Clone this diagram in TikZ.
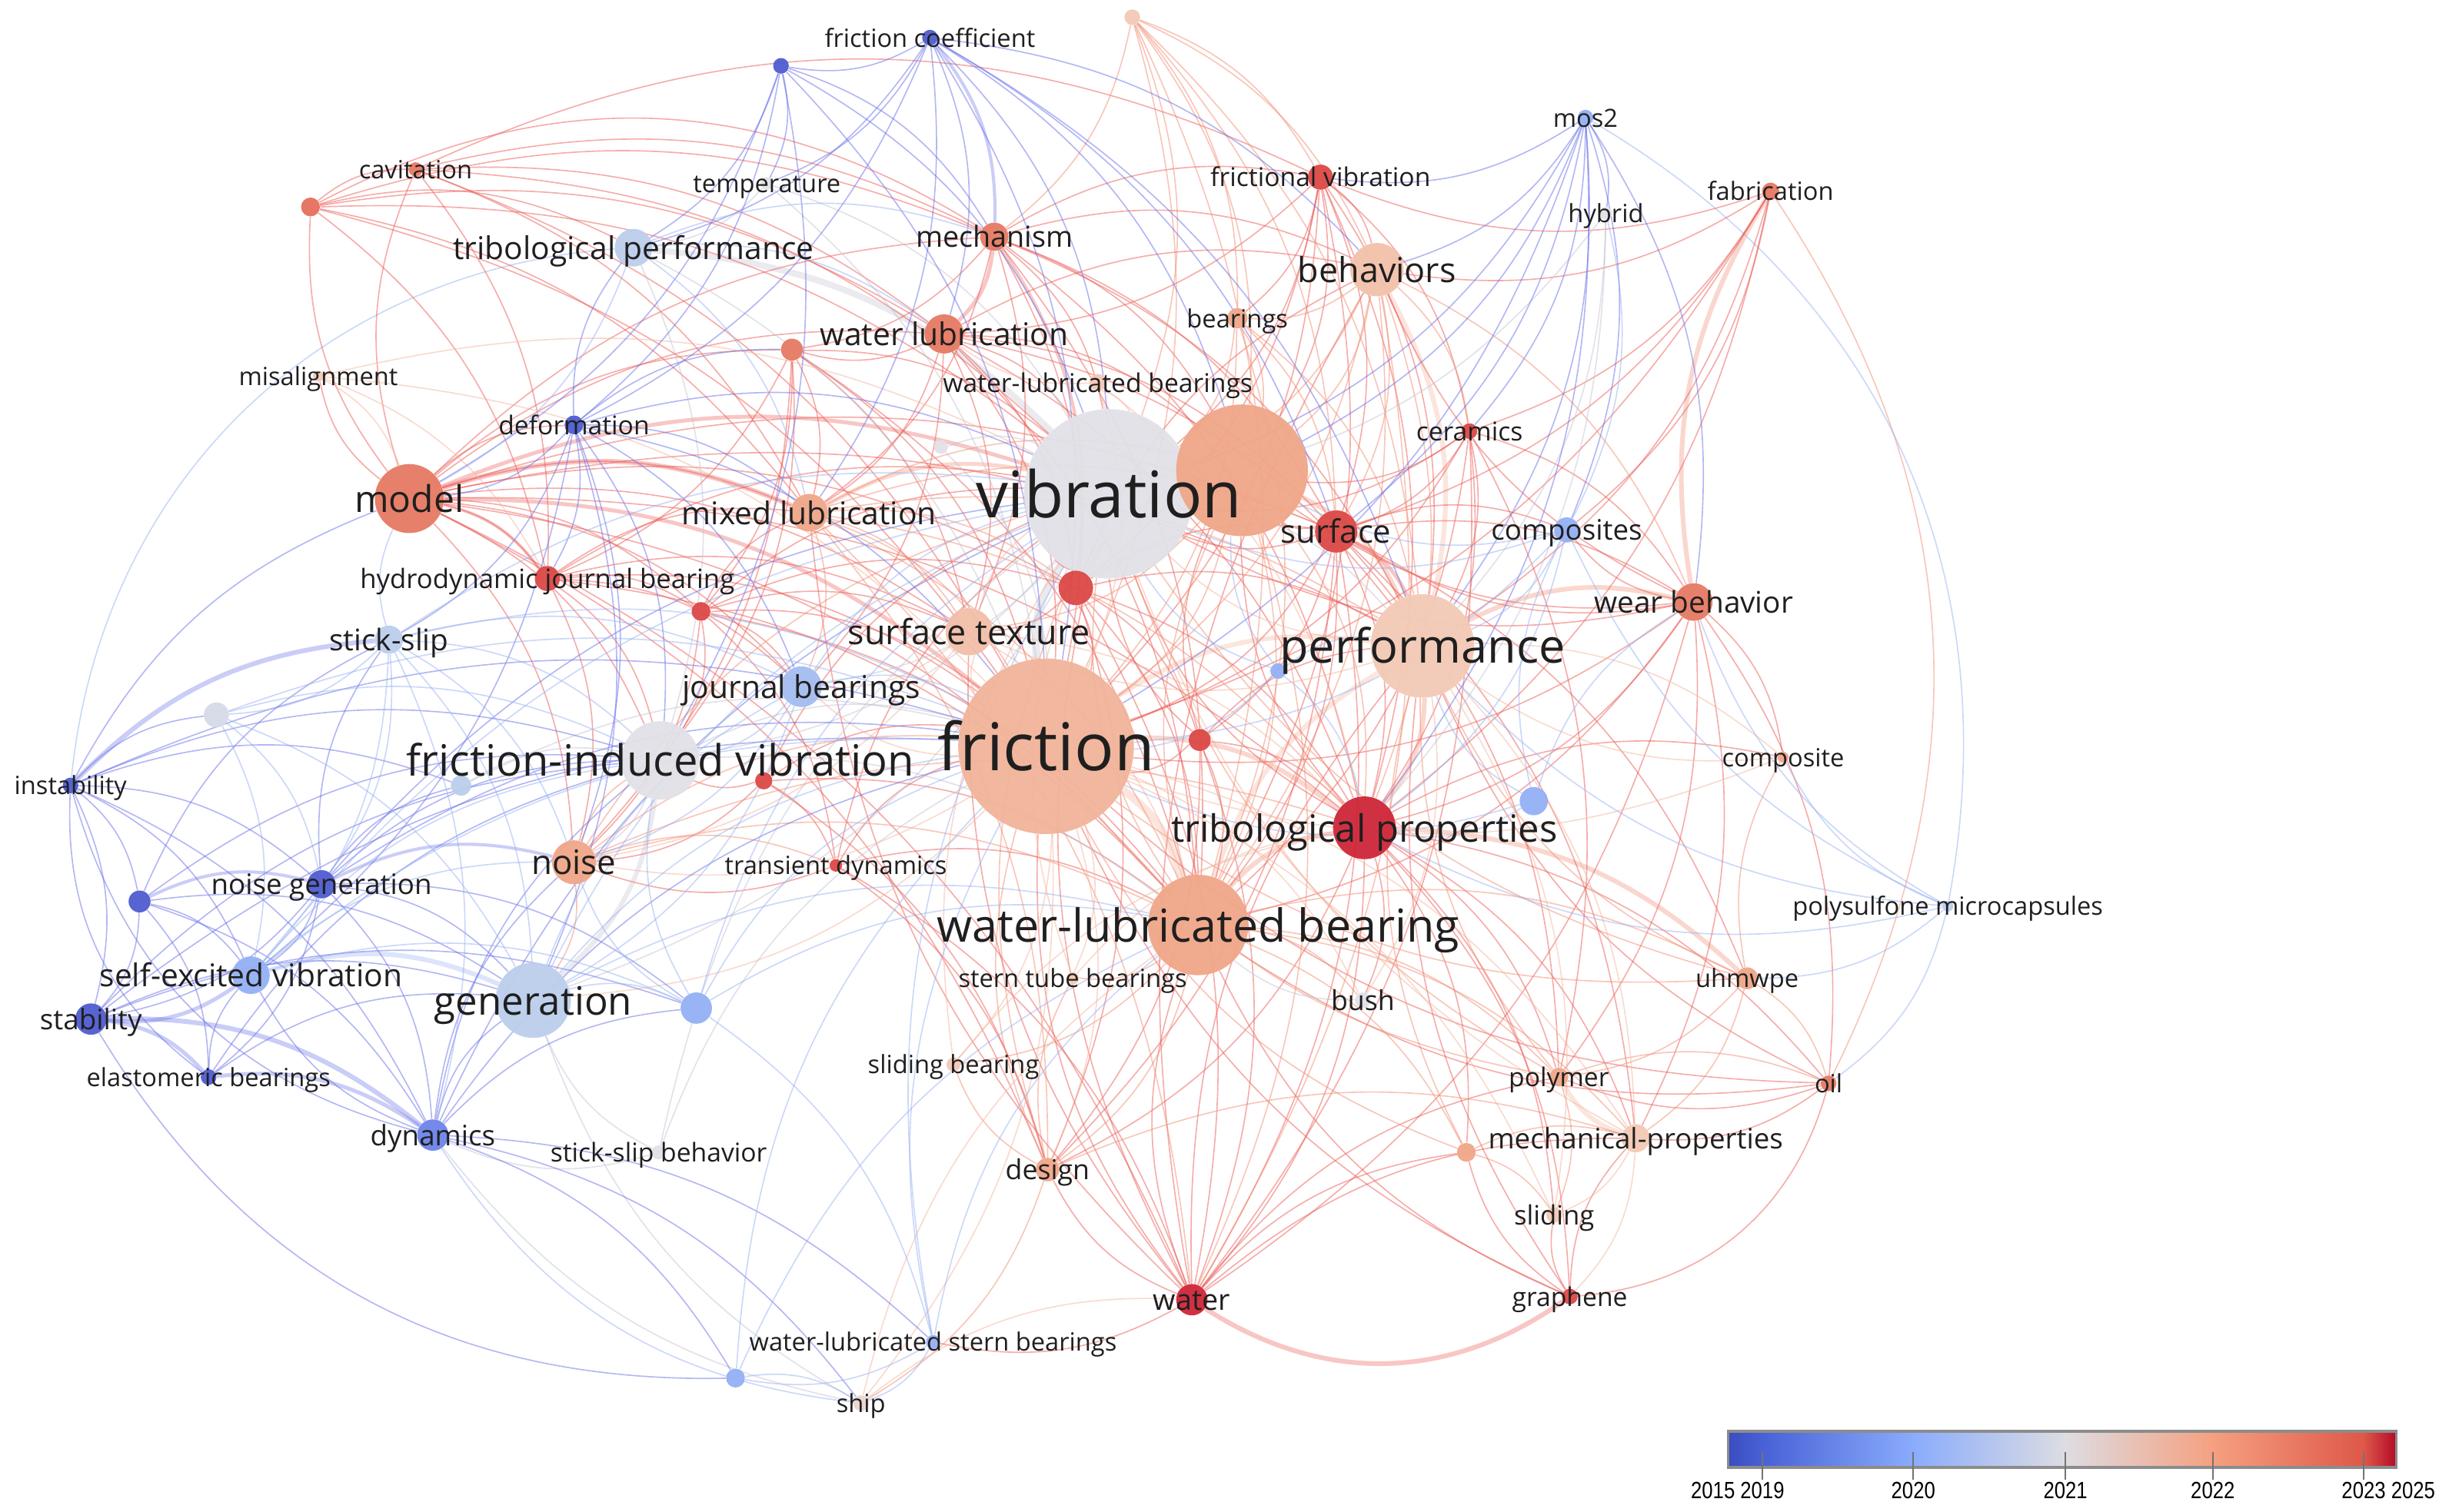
\documentclass[tikz,border=0pt]{standalone}
\usepackage{fontspec}
\setmainfont{Open Sans}
\newfontfamily\barfont[FakeStretch=0.84]{Liberation Sans}
\pgfdeclarelayer{paper}
\pgfdeclarelayer{edges}
\pgfdeclarelayer{labels}
\pgfsetlayers{paper,edges,main,labels}
\definecolor{B1}{RGB}{78,92,208}
\definecolor{B2}{RGB}{108,132,232}
\definecolor{B3}{RGB}{148,176,245}
\definecolor{B4}{RGB}{188,206,236}
\definecolor{G0}{RGB}{225,225,231}
\definecolor{P1}{RGB}{243,202,182}
\definecolor{O1}{RGB}{240,166,136}
\definecolor{O2}{RGB}{230,122,98}
\definecolor{R1}{RGB}{220,72,70}
\definecolor{R2}{RGB}{206,38,56}
\definecolor{eR}{RGB}{236,92,86}
\definecolor{eO}{RGB}{242,142,116}
\definecolor{eP}{RGB}{245,182,158}
\definecolor{eB}{RGB}{104,112,232}
\definecolor{eL}{RGB}{152,178,242}
\definecolor{eG}{RGB}{196,196,212}
\definecolor{cb0}{RGB}{58,76,192}
\definecolor{cb1}{RGB}{72,98,214}
\definecolor{cb2}{RGB}{138,172,252}
\definecolor{cb3}{RGB}{221,221,226}
\definecolor{cb4}{RGB}{245,160,128}
\definecolor{cb5}{RGB}{222,88,72}
\definecolor{cb6}{RGB}{180,10,40}
\tikzset{
  dot/.style={circle,inner sep=0pt,draw=none,fill opacity=0.95},
  lab/.style={inner sep=0pt,text=black!88,anchor=base},
  lk/.style={line width=0.8pt,draw opacity=0.5},
  lkt/.style={draw opacity=0.35},
  barlab/.style={inner sep=0pt,font=\barfont\fontsize{15pt}{15pt}\selectfont,text=black}
}
\newcommand{\kwnode}[7]{\node[dot,fill=#5,minimum size=#4pt] (#1) at (#2,#3) {};%
  \begin{pgfonlayer}{labels}\node[lab,font=\fontsize{#6pt}{#6pt}\selectfont] (#1-l) at (#2,{#3+0.37*#6}) {#7};\end{pgfonlayer}}
\newcommand{\kwdot}[5]{\node[dot,fill=#5,minimum size=#4pt] (#1) at (#2,#3) {};}
\begin{document}
\begin{tikzpicture}[x=1pt,y=-1pt]
\useasboundingbox (0,0) rectangle (1568,964);
\begin{pgfonlayer}{paper}\fill[white] (0,0) rectangle (1568,964);\end{pgfonlayer}
% ---------------- keywords ----------------
\kwnode{fc}{593}{24}{10}{B1}{16}{friction coefficient}
\kwdot{bd1}{498}{42}{10}{B1}
\kwdot{od1}{722}{11}{10}{P1}
\kwnode{cav}{265}{108}{9}{O2}{16}{cavitation}
\kwdot{rd1}{198}{132}{12}{O2!80!R1}
\kwnode{temp}{489}{117}{8}{G0}{16}{temperature}
\kwnode{tp}{404}{158}{24}{B4}{20}{tribological performance}
\kwnode{mech}{634}{151}{18}{O2}{18.5}{mechanism}
\kwnode{frv}{842}{113}{16}{R1}{16.5}{frictional vibration}
\kwnode{fab}{1129}{122}{11}{O2}{16}{fabrication}
\kwnode{mos}{1011}{75}{10}{B3}{16}{mos2}
\kwnode{hyb}{1024}{136}{8}{G0}{16}{hybrid}
\kwnode{beh}{878}{172}{34}{P1!75!O1}{22}{behaviors}
\kwnode{brg}{789}{203}{13}{O1}{16}{bearings}
\kwnode{wl}{602}{213}{25}{O2}{20}{water lubrication}
\kwdot{rd2}{505}{223}{14}{O2}
\kwnode{wlbs}{700}{244}{11}{P1}{16.5}{water-lubricated bearings}
\kwnode{mis}{203}{240}{7}{P1}{16}{misalignment}
\kwnode{def}{366}{271}{12}{B1}{16.5}{deformation}
\kwnode{cer}{937}{275}{10}{R1}{16.5}{ceramics}
\kwdot{wd1}{600}{285}{9}{G0}
\kwnode{model}{261}{318}{44}{O2}{23.5}{model}
\kwnode{ml}{516}{327}{24}{O1}{20}{mixed lubrication}
\kwnode{vib}{707}{315}{108}{G0}{41}{vibration}
\kwdot{ob}{792}{300}{84}{O1}
\kwnode{surf}{852}{339}{27}{R1}{20.5}{surface}
\kwnode{comps}{999}{338}{16}{B3}{18}{composites}
\kwnode{hjb}{349}{369}{16}{R1}{17}{hydrodynamic journal bearing}
\kwdot{rd3}{447}{390}{12}{R1}
\kwdot{rd4}{686}{375}{22}{R1}
\kwnode{wb}{1080}{384}{24}{O2}{19}{wear behavior}
\kwnode{ss}{248}{408}{18}{B4}{19}{stick-slip}
\kwnode{st}{618}{403}{30}{P1!70!O1}{22}{surface texture}
\kwnode{jb}{511}{438}{26}{B3!60!B4}{20}{journal bearings}
\kwnode{perf}{907}{412}{66}{P1}{30}{performance}
\kwdot{bd2}{815}{428}{10}{B3}
\kwdot{gd1}{138}{456}{16}{G0!70!B4}
\kwnode{fric}{667}{476}{112}{O1!60!P1}{42}{friction}
\kwdot{rd5}{765}{472}{14}{R1}
\kwnode{fiv}{421}{485}{50}{G0}{27.5}{friction-induced vibration}
\kwdot{gd2}{294}{501}{13}{B4}
\kwdot{rd6}{487}{498}{11}{R1}
\kwnode{inst}{45}{501}{10}{B1}{16}{instability}
\kwnode{comp}{1137}{483}{7}{O1}{16}{composite}
\kwdot{bd3}{978}{511}{18}{B3}
\kwnode{tprop}{870}{528}{40}{R2}{24}{tribological properties}
\kwnode{noise}{366}{550}{28}{O1}{21.5}{noise}
\kwnode{td}{533}{552}{8}{R1}{16}{transient dynamics}
\kwnode{ng}{205}{564}{18}{B1}{18}{noise generation}
\kwdot{bd4}{89}{575}{14}{B1}
\kwnode{wlb}{764}{590}{64}{O1}{29}{water-lubricated bearing}
\kwnode{psm}{1242}{578}{7}{B4}{16}{polysulfone microcapsules}
\kwnode{sev}{160}{622}{24}{B3}{20}{self-excited vibration}
\kwnode{gen}{340}{638}{48}{B4}{25}{generation}
\kwdot{bd5}{444}{643}{20}{B3}
\kwnode{stab}{58}{650}{20}{B1}{18}{stability}
\kwnode{stb}{684}{624}{8}{P1}{16}{stern tube bearings}
\kwnode{bush}{869}{638}{10}{G0}{17.5}{bush}
\kwnode{uhm}{1114}{624}{14}{O1}{16}{uhmwpe}
\kwnode{sb}{608}{679}{9}{P1}{16}{sliding bearing}
\kwnode{eb}{133}{687}{10}{B1}{16}{elastomeric bearings}
\kwnode{poly}{994}{687}{12}{O1}{16.5}{polymer}
\kwnode{oil}{1166}{691}{10}{O2}{16}{oil}
\kwnode{dyn}{276}{724}{20}{B2}{18}{dynamics}
\kwnode{ssb}{420}{735}{9}{G0}{16.5}{stick-slip behavior}
\kwnode{mp}{1043}{726}{18}{P1}{18}{mechanical-properties}
\kwdot{od2}{935}{735}{12}{O1}
\kwnode{design}{668}{746}{15}{O1}{17.5}{design}
\kwnode{sliding}{991}{775}{10}{P1}{17}{sliding}
\kwnode{water}{760}{829}{20}{R2}{18.5}{water}
\kwnode{gra}{1001}{827}{10}{R1}{16.5}{graphene}
\kwnode{wlsb}{595}{856}{9}{B3}{16}{water-lubricated stern bearings}
\kwdot{bd6}{469}{879}{12}{B3}
\kwnode{ship}{549}{895}{10}{P1!50!G0}{16}{ship}
% ---------------- links ----------------
\begin{pgfonlayer}{edges}
% outer arcs
\draw[lkt,draw=eR,line width=3pt] (water) to[bend right=34] (gra);
\draw[lk,eB] (inst) to[bend right=30] (dyn);
\draw[lk,eB] (inst) to[bend right=28] (eb);
\draw[lk,eL] (inst) to[bend left=40] (tp);
\draw[lk,eB] (stab) to[bend right=30] (bd6);
\draw[lk,eL] (dyn) to[bend right=25] (ship);
\draw[lk,eR] (rd1) to[bend left=30] (mech);
\draw[lk,eR] (cav) to[bend left=25] (frv);
\draw[lk,eO] (fab) to[bend left=30] (oil);
\draw[lk,eL] (mos) to[bend left=35] (psm);
\draw[lk,eR] (gra) to[bend right=35] (oil);
% thick links
\foreach \a/\b/\c/\w in {fric/wlb/eP/5, fric/vib/eG/5, vib/ob/eG/4, model/ml/eR/3, model/vib/eR/2.5, model/fric/eR/2.5,
  tprop/uhm/eO/3, wb/fab/eO/3, perf/wb/eO/3, fric/tprop/eO/3, mech/wl/eR/2.5, mech/rd4/eR/2,
  beh/perf/eP/3, perf/tprop/eO/3, wlb/tprop/eO/3, surf/perf/eR/2.5, tp/vib/eG/4, inst/ss/eB/3, stab/dyn/eB/3,
  stab/eb/eB/2.5, eb/dyn/eB/2.5, sev/stab/eB/2.5, bd4/ng/eB/2, sev/gen/eL/3, fc/mech/eB/2, ng/noise/eB/2,
  fric/perf/eP/3, wlb/perf/eP/3, mp/poly/eP/3, ob/perf/eO/3, model/hjb/eR/2, ml/vib/eO/2.5, fiv/gen/eG/3} 
  \draw[lkt,draw=\c,line width=\w pt] (\a) to[bend left=20] (\b);
% red links
\foreach \a/\b in {model/ml, model/hjb, model/rd3, model/noise, model/fiv, model/wl, model/rd1, model/cav, model/def,
  model/st, model/jb, model/tprop, model/wlb, model/surf, model/mis, model/rd4, model/rd2, model/mech, model/design,
  model/water, model/perf, rd1/cav, rd1/tp, rd1/mech, rd1/ml, rd1/vib, rd1/hjb, rd1/wl, rd1/fric,
  cav/mech, cav/ml, cav/vib, cav/fric, cav/wl, cav/hjb,
  mech/vib, mech/fric, mech/ml, mech/surf, mech/beh, mech/tprop, mech/perf, mech/wlb, mech/rd2, mech/frv, mech/st, mech/ob,
  frv/vib, frv/fric, frv/surf, frv/beh, frv/perf, frv/tprop, frv/wlb, frv/brg, frv/cer, frv/ob, frv/rd4, frv/wl,
  fab/cer, fab/tprop, fab/perf, fab/surf, fab/beh, fab/comps, fab/frv, fab/fric,
  wl/vib, wl/fric, wl/ml, wl/wlb, wl/st, wl/rd4, wl/perf, wl/tprop, wl/jb, wl/rd2, wl/surf, wl/ob, wl/beh,
  rd2/vib, rd2/fric, rd2/ml, rd2/rd3, rd2/fiv, rd2/noise, rd2/st, rd2/hjb, rd2/wlb,
  cer/surf, cer/tprop, cer/perf, cer/wb, cer/fric, cer/wlb, cer/water, cer/poly, cer/ob, cer/vib,
  surf/vib, surf/fric, surf/tprop, surf/wlb, surf/wb, surf/rd5, surf/ob, surf/comps, surf/water, surf/poly, surf/mp, surf/uhm, surf/design,
  hjb/vib, hjb/fric, hjb/fiv, hjb/rd3, hjb/ml, hjb/jb, hjb/noise, hjb/wlb, hjb/st,
  rd3/vib, rd3/fric, rd3/fiv, rd3/st, rd3/jb, rd3/rd4, rd3/ml, rd3/td, rd3/noise, rd3/wlb,
  rd4/vib, rd4/fric, rd4/st, rd4/surf, rd4/perf, rd4/tprop, rd4/wlb, rd4/rd5, rd4/ob, rd4/beh, rd4/design, rd4/water,
  rd5/vib, rd5/tprop, rd5/wlb, rd5/perf, rd5/water, rd5/fric, rd5/ob, rd5/design,
  tprop/vib, tprop/poly, tprop/mp, tprop/oil, tprop/gra, tprop/water, tprop/design, tprop/sliding, tprop/bush, tprop/od2, tprop/comp, tprop/ob,
  rd6/fric, rd6/vib, rd6/td, rd6/noise, rd6/fiv, rd6/wlb, rd6/design,
  td/fric, td/wlb, td/vib, td/design, td/noise, td/water,
  water/vib, water/fric, water/wlb, water/ml, water/poly, water/od2, water/mp, water/wlsb, water/design, water/st, water/perf, water/beh,
  gra/od2, gra/sliding, gra/mp, gra/perf, gra/wlb, gra/fric,
  oil/mp, oil/perf, oil/fric, oil/poly, oil/wlb,
  wb/tprop, wb/surf, wb/fric, wb/vib, wb/comp, wb/poly, wb/mp, wb/oil, wb/wlb, wb/comps, wb/beh, wb/ob, wb/water}
  \draw[lk,eR] (\a) to[bend left=20] (\b);
% orange links
\foreach \a/\b in {beh/vib, beh/fric, beh/tprop, beh/wlb, beh/surf, beh/ob, beh/wb, beh/cer, beh/brg, beh/water,
  brg/vib, brg/fric, brg/wlb, brg/perf, brg/surf, brg/ob,
  od1/fric, od1/vib, od1/mech, od1/beh, od1/perf, od1/frv, od1/surf, od1/wlb, od1/ob, od1/brg,
  ml/fric, ml/st, ml/wlb, ml/jb, ml/rd4, ml/tprop, ml/perf, ml/surf, ml/design, ml/water, ml/ob,
  noise/vib, noise/fric, noise/wlb, noise/td, noise/gen, noise/fiv, noise/tprop,
  wlb/vib, wlb/design, wlb/stb, wlb/bush, wlb/sb, wlb/uhm, wlb/poly, wlb/mp, wlb/od2, wlb/ob,
  design/vib, design/fric, design/ship, design/sb, design/stb, design/mp,
  uhm/poly, uhm/oil, uhm/mp, uhm/comp, uhm/fric, uhm/perf, uhm/vib,
  poly/oil, poly/sliding, poly/fric, poly/perf, poly/vib,
  od2/sliding, od2/mp, od2/fric, od2/perf,
  ob/fric, ob/tprop, ob/wlb, ob/st, ob/water}
  \draw[lk,eO] (\a) to[bend left=20] (\b);
% peach links
\foreach \a/\b in {fric/st, fric/noise, fric/design, fric/bush, fric/stb, fric/sb, fric/jb, fric/gen, fric/ship, fric/sliding, fric/mp,
  perf/vib, perf/st, perf/mp, perf/sliding, perf/bush, perf/comp,
  st/vib, st/wlb, st/tprop, st/jb, st/noise, mp/sliding, mp/vib, mp/gra,
  sb/vib, sb/tprop, stb/vib, stb/tprop, mis/fric, mis/vib, mis/model, mis/hjb, ship/water, ship/wlb,
  wlbs/vib, wlbs/fric, wlbs/tprop, wlbs/wl, comp/perf, comp/fric}
  \draw[lk,eP] (\a) to[bend left=20] (\b);
% grey links
\foreach \a/\b in {vib/fiv, vib/gen, vib/perf, vib/jb, tp/fric, tp/fiv, fiv/fric, fiv/noise, fiv/wlb, bush/wlb,
  ssb/fric, ssb/gen, ssb/dyn, ssb/vib, temp/vib, temp/fric, temp/tp, hyb/vib, hyb/perf, hyb/tprop,
  wd1/vib, wd1/fric, ship/gen, ship/dyn, gd2/fiv, gd2/fric}
  \draw[lk,eG] (\a) to[bend left=20] (\b);
% blue links
\foreach \a/\b in {fc/bd1, fc/vib, fc/fric, fc/wl, fc/tp, fc/temp, fc/def, fc/ob, fc/beh, fc/surf, fc/ml, fc/perf,
  bd1/temp, bd1/tp, bd1/vib, bd1/fric, bd1/fiv, bd1/def, bd1/mech, bd1/model,
  def/model, def/ml, def/vib, def/fric, def/fiv, def/hjb, def/ss, def/jb, def/gen, def/noise, def/sev, def/tp, def/rd2,
  inst/bd4, inst/stab, inst/sev, inst/ng, inst/fiv, inst/model, inst/dyn, inst/gd2, inst/gd1, inst/fric,
  bd4/sev, bd4/stab, bd4/gen, bd4/fiv, bd4/dyn, bd4/eb, bd4/ss,
  ng/sev, ng/gen, ng/fiv, ng/stab, ng/dyn, ng/eb, ng/fric, ng/gd2, ng/ss, ng/vib, ng/bd5,
  stab/gen, stab/fiv, stab/bd5, stab/fric, eb/gen, eb/sev, eb/fiv,
  dyn/gen, dyn/fiv, dyn/bd5, dyn/wlsb, dyn/bd6, dyn/ship, dyn/fric, dyn/sev, dyn/noise, dyn/vib,
  mos/comps, mos/hyb, mos/tprop, mos/perf, mos/vib, mos/fric, mos/beh, mos/frv, mos/wb, mos/cer, mos/surf, mos/ob}
  \draw[lk,eB] (\a) to[bend left=20] (\b);
% light blue links
\foreach \a/\b in {ss/fiv, ss/fric, ss/vib, ss/gd1, ss/gen, ss/noise, ss/dyn, ss/sev, ss/ng, ss/jb, ss/model,
  gd1/fiv, gd1/gen, gd1/ng, gd1/sev, gd1/fric, sev/fiv, sev/fric, sev/bd5, sev/noise, sev/vib,
  gen/fric, gen/bd5, gen/vib, gen/wlb, gen/jb, bd5/fric, bd5/fiv, bd5/wlsb, bd5/wlb, bd5/noise, bd5/vib,
  jb/vib, jb/fric, jb/fiv, jb/gen, jb/noise, wlsb/ship, wlsb/bd6, wlsb/wlb, wlsb/fric, wlsb/vib,
  bd6/ship, bd6/wlb, bd6/fric, bd2/perf, bd2/fric, bd2/vib, bd2/tprop, bd2/ob,
  bd3/tprop, bd3/perf, bd3/wb, bd3/comps, bd3/fric, psm/wb, psm/tprop, psm/perf, psm/comps, psm/uhm, psm/comp, psm/oil,
  comps/perf, comps/tprop, comps/fric, comps/vib, comps/ob, hyb/comps, tp/model, tp/wl, tp/ml, tp/mech}
  \draw[lk,eL] (\a) to[bend left=20] (\b);
\end{pgfonlayer}
% ---------------- colour bar ----------------
\shade[left color=cb0,right color=cb1] (1102,913) rectangle (1124.5,936);
\shade[left color=cb1,right color=cb2] (1124,913) rectangle (1220.5,936);
\shade[left color=cb2,right color=cb3] (1220,913) rectangle (1317.5,936);
\shade[left color=cb3,right color=cb4] (1317,913) rectangle (1411.5,936);
\shade[left color=cb4,right color=cb5] (1411,913) rectangle (1507.5,936);
\shade[left color=cb5,right color=cb6] (1507,913) rectangle (1528,936);
\draw[black!45,line width=1.6pt] (1102,913) rectangle (1528,936);
\foreach \x in {1124,1220,1317,1411,1507}
  \draw[black!55,line width=1pt] (\x,926) -- (\x,944);
\node[barlab,anchor=north east] (y2019) at (1138,945) {2015 2019};
\node[barlab,anchor=north] (y2020) at (1220,945) {2020};
\node[barlab,anchor=north] (y2021) at (1317,945) {2021};
\node[barlab,anchor=north] (y2022) at (1411,945) {2022};
\node[barlab,anchor=north west] (y2023) at (1493,945) {2023 2025};
\end{tikzpicture}
\end{document}
